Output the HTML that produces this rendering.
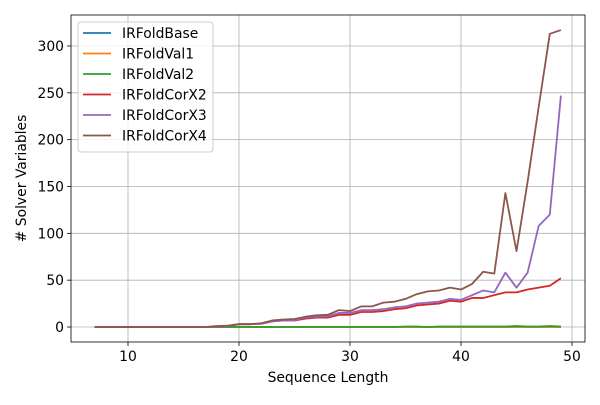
<!DOCTYPE html>
<html><head><meta charset="utf-8"><style>
body{margin:0;background:#fff;font-family:"Liberation Sans",sans-serif;}
svg text{font-family:"DejaVu Sans","Liberation Sans",sans-serif;font-size:13.9px;fill:#000}
</style></head><body>
<svg id="chart" width="600" height="400"></svg>
<script>
const xs=[];for(let i=7;i<=49;i++)xs.push(i);
const base=[0,0,0,0,0,0,0,0,0,0,0,0,0,0,0,0,0,0,0,0,0,0,0,0,0,0,0,0,0,0,0,0,0,0,0,0,0,0,0,0,0,0,0];
const val1=[0,0,0,0,0,0,0,0,0,0,0,0,0,0,0,0,0,0,0,0,0,0,0,0,0,0,0,0,0,0,0,0,0,0,0,0,0,0,0,0,0,0,0];
const val2=[0,0,0,0,0,0,0,0,0,0,0,0,0,0,0,0,0,0,0,0,0,0,0,0,0,0,0,0,0.5,0.5,0,0.5,0.5,0.5,0.5,0.5,0.5,0.5,1,0.5,0.5,1,0.5];
const corx2=[0,0,0,0,0,0,0,0,0,0,0,0.5,1,3,3,3.5,6,7,7,9,10,10,13,13,16,16,17,19,20,23,24,25,28,27,31,31,34,37,37,40,42,44,52];
const corx3=[0,0,0,0,0,0,0,0,0,0,0,0.5,1,3,3,3.5,6,7,7.5,10,11,11.5,15,15,18,18,19,21,22,25,26,27,30,29,34,39,37,58,42,58,108,120,247];
const corx4=[0,0,0,0,0,0,0,0,0,0,0,1,1.5,3,3,4,7,8,8.5,11,12.5,13,18,17,22,22,26,27,30,35,38,39,42,40,46,59,57,143,81,155,235,313,317];
const series=[["IRFoldBase",base,"#1f77b4"],["IRFoldVal1",val1,"#ff7f0e"],["IRFoldVal2",val2,"#2ca02c"],["IRFoldCorX2",corx2,"#d62728"],["IRFoldCorX3",corx3,"#9467bd"],["IRFoldCorX4",corx4,"#8c564b"]];
const xTicks=[10,20,30,40,50];
const yTicks=[0,50,100,150,200,250,300];
const L=71,R=585,T=15,B=342;
const X=v=>128+(v-10)*11.1;
const Y=v=>327-v*0.9367;
const svg=document.getElementById('chart');
const NS="http://www.w3.org/2000/svg";
function mk(t,a,p){const e=document.createElementNS(NS,t);for(const k in a)e.setAttribute(k,a[k]);(p||svg).appendChild(e);return e;}
xTicks.forEach(t=>{
 const g=mk('line',{x1:X(t),x2:X(t),y1:T,y2:B,stroke:'#b0b0b0','stroke-width':0.8});
 
 
 mk('line',{x1:X(t),x2:X(t),y1:B,y2:B+4,stroke:'#000','stroke-width':0.8});
 const tx=mk('text',{x:X(t),y:B+19,'text-anchor':'middle'});tx.textContent=t;
 
 
});
yTicks.forEach(t=>{
 const g=mk('line',{x1:L,x2:R,y1:Y(t),y2:Y(t),stroke:'#b0b0b0','stroke-width':0.8});
 
 
 mk('line',{x1:L-4,x2:L,y1:Y(t),y2:Y(t),stroke:'#000','stroke-width':0.8});
 const tx=mk('text',{x:L-7,y:Y(t)+5,'text-anchor':'end'});tx.textContent=t;
 
 
});
series.forEach(s=>{
 const p=mk('polyline',{points:s[1].map((v,i)=>X(xs[i])+','+Y(v)).join(' '),fill:'none',stroke:s[2],'stroke-width':1.8,'stroke-linejoin':'round'});
 
 
});
const fr=mk('rect',{x:L,y:T,width:R-L,height:B-T,fill:'none',stroke:'#000','stroke-width':0.8});


const xl=mk('text',{x:(L+R)/2,y:382,'text-anchor':'middle'});xl.textContent='Sequence Length';


const yl=mk('text',{x:26,y:(T+B)/2,'text-anchor':'middle',transform:'rotate(-90 26 '+((T+B)/2)+')'});yl.textContent='# Solver Variables';


const lg=mk('g',{});


mk('rect',{x:78,y:22,width:135,height:130,rx:3,fill:'#fff','fill-opacity':0.8,stroke:'#ccc'},lg);
series.forEach((s,i)=>{
 const y=33+i*20.5;
 const ln=mk('line',{x1:83,x2:111,y1:y,y2:y,stroke:s[2],'stroke-width':1.8},lg);
 
 
 const t=mk('text',{x:122,y:y+5},lg);t.textContent=s[0];
 
 
});
</script>
</body></html>
